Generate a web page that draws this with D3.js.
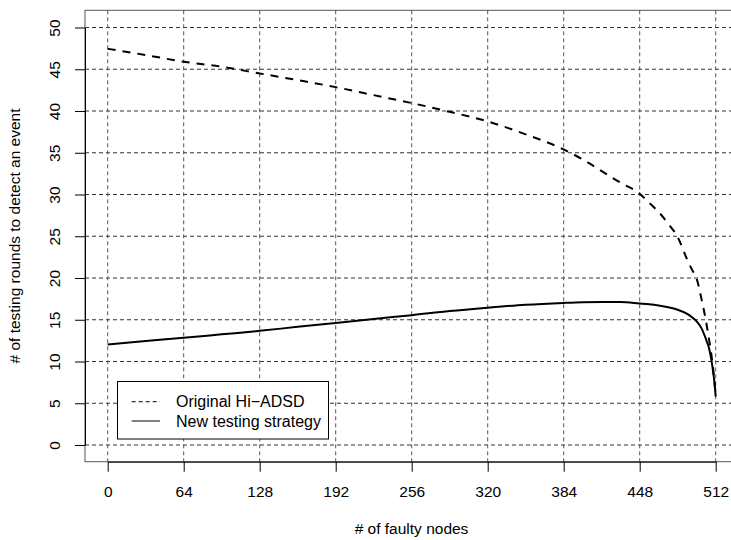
<!DOCTYPE html>
<html>
<head>
<meta charset="utf-8">
<script src="https://cdn.jsdelivr.net/npm/d3@7"></script>
<style>
  html, body { margin: 0; padding: 0; background: #fff; }
  svg { display: block; }
  text { font-family: "Liberation Sans", Arial, Helvetica, sans-serif; fill: #000; }
</style>
</head>
<body>
<svg id="chart" width="731" height="540"></svg>
<script>
// ---- data ----
const faultyNodes = [0, 32, 64, 96, 128, 160, 192, 224, 256, 288, 320, 352, 384, 400, 416, 432, 448, 456, 464, 472, 480, 488, 492, 496, 500, 504, 506, 508, 510, 511, 512];
const originalHiADSD = [47.45, 46.7, 45.9, 45.3, 44.5, 43.7, 42.86, 41.9, 40.95, 39.9, 38.75, 37.2, 35.4, 34.2, 32.8, 31.4, 30.1, 29.0, 27.9, 26.5, 24.9, 22.2, 21.0, 19.9, 17.5, 14.7, 13.0, 11.2, 8.9, 7.5, 5.8];
const newStrategy = [12.05, 12.45, 12.83, 13.25, 13.67, 14.15, 14.6, 15.1, 15.55, 16.05, 16.45, 16.8, 17.02, 17.1, 17.13, 17.13, 16.95, 16.85, 16.7, 16.5, 16.2, 15.7, 15.3, 14.8, 14.0, 12.6, 11.8, 10.5, 8.6, 7.4, 5.8];
const xTicks = [0, 64, 128, 192, 256, 320, 384, 448, 512];
const yTicks = [0, 5, 10, 15, 20, 25, 30, 35, 40, 45, 50];
const seriesNames = ["Original Hi\u2212ADSD", "New testing strategy"];
const xTitle = "# of faulty nodes";
const yTitle = "# of testing rounds to detect an event";

// ---- layout ----
const svg = d3.select("#chart");
const box = { left: 85, right: 738, top: 10.3, bottom: 461.7 };
const x = d3.scaleLinear().domain([0, 512]).range([107.7, 715.7]);
const y = d3.scaleLinear().domain([0, 50]).range([445, 27.5]);
const fontSize = 15.5;

// grid
const g = svg.append("g");
g.selectAll("line.hgrid").data(yTicks).enter().append("line")
  .attr("x1", box.left).attr("x2", box.right)
  .attr("y1", d => y(d)).attr("y2", d => y(d))
  .attr("stroke", "#333").attr("stroke-width", 1).attr("stroke-dasharray", "4,3");
g.selectAll("line.vgrid").data(xTicks).enter().append("line")
  .attr("x1", d => x(d)).attr("x2", d => x(d))
  .attr("y1", box.top).attr("y2", box.bottom)
  .attr("stroke", "#555").attr("stroke-width", 1).attr("stroke-dasharray", "4,3");

// box
svg.append("rect")
  .attr("x", box.left).attr("y", box.top)
  .attr("width", box.right - box.left).attr("height", box.bottom - box.top)
  .attr("fill", "none").attr("stroke", "#555").attr("stroke-width", 1);

// x axis
const xAxis = d3.axisBottom(x).tickValues(xTicks).tickSize(10).tickPadding(14).tickSizeOuter(0);
const xa = svg.append("g").attr("transform", `translate(0,${box.bottom})`).call(xAxis);
xa.select(".domain").attr("stroke", "#000");
xa.selectAll(".tick line").attr("stroke", "#000");
xa.selectAll("text").attr("font-size", fontSize).attr("font-family", "Liberation Sans, Arial, sans-serif").attr("fill", "#000")
  .attr("dy", null).attr("y", 35.3);

// y axis
const yAxis = d3.axisLeft(y).tickValues(yTicks).tickSize(10).tickSizeOuter(0);
const ya = svg.append("g").attr("transform", `translate(${box.left},0)`).call(yAxis);
ya.select(".domain").attr("stroke", "#000");
ya.selectAll(".tick line").attr("stroke", "#000");
ya.selectAll(".tick text")
  .attr("font-size", fontSize).attr("font-family", "Liberation Sans, Arial, sans-serif").attr("fill", "#000")
  .attr("x", null).attr("dy", null)
  .attr("text-anchor", "middle")
  .attr("transform", "translate(-25,0) rotate(-90)");

// titles
svg.append("text").attr("x", (box.left + box.right) / 2).attr("y", 533.5)
  .attr("text-anchor", "middle").attr("font-size", fontSize).text(xTitle);
svg.append("text").attr("transform", `translate(19.5,${(box.top + box.bottom) / 2}) rotate(-90)`)
  .attr("text-anchor", "middle").attr("font-size", fontSize).text(yTitle);

// lines
const line = d3.line().curve(d3.curveMonotoneX).x((d, i) => x(faultyNodes[i])).y(d => y(d));
svg.append("path").datum(originalHiADSD).attr("d", line)
  .attr("fill", "none").attr("stroke", "#000").attr("stroke-width", 2)
  .attr("stroke-dasharray", "8,7");
svg.append("path").datum(newStrategy).attr("d", line)
  .attr("fill", "none").attr("stroke", "#000").attr("stroke-width", 2);

// legend
const lg = svg.append("g");
lg.append("rect").attr("x", 117.5).attr("y", 381.5).attr("width", 211).attr("height", 57.5)
  .attr("fill", "#fff").attr("stroke", "#000").attr("stroke-width", 1);
const legendRows = [
  { name: seriesNames[0], dash: "4,3", ly: 401.7, ty: 407.4 },
  { name: seriesNames[1], dash: null, ly: 421, ty: 426.6 }
];
legendRows.forEach(r => {
  lg.append("line").attr("x1", 131.7).attr("x2", 160).attr("y1", r.ly).attr("y2", r.ly)
    .attr("stroke", "#000").attr("stroke-width", 1).attr("stroke-dasharray", r.dash);
  lg.append("text").attr("x", 176).attr("y", r.ty).attr("font-size", 16).text(r.name);
});
</script>
</body>
</html>
